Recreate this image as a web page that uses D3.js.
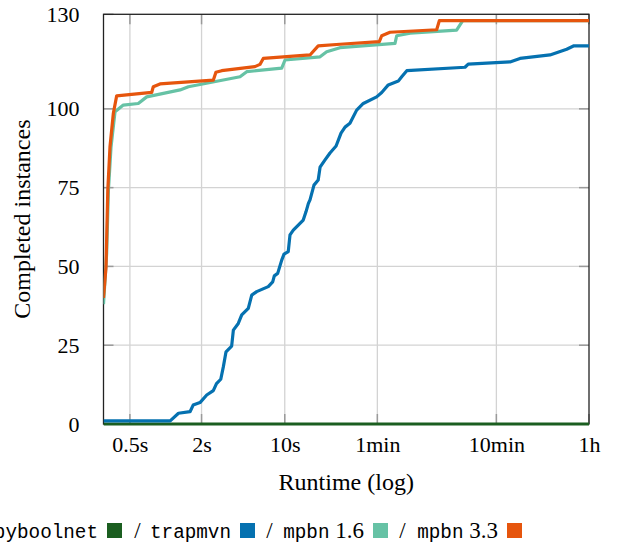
<!DOCTYPE html>
<html>
<head>
<meta charset="utf-8">
<script src="https://cdn.jsdelivr.net/npm/d3@7"></script>
<style>
  html, body { margin: 0; padding: 0; background: #fff; }
  svg { display: block; }
</style>
</head>
<body>
<svg id="chart" width="623" height="546"></svg>
<script>
// ---------- data ----------
const xTickValues = [0.5, 2, 10, 60, 600, 3600];
const xTickLabels = ["0.5s", "2s", "10s", "1min", "10min", "1h"];
const yTickValues = [0, 25, 50, 75, 100, 130];
const yGridValues = [25, 50, 75, 100];
const xLabel = "Runtime (log)";
const yLabel = "Completed instances";

const seriesNames = ["pyboolnet", "trapmvn", "mpbn 1.6", "mpbn 3.3"];
const seriesColors = ["#1b5e20", "#0571b0", "#66c2a5", "#e6550d"];

const pyboolnetTimes = [0.3, 3600];
const pyboolnetCounts = [0, 0];

const trapmvnTimes = [0.3, 1.09, 1.28, 1.60, 1.70, 1.94, 2.21, 2.51, 2.67, 2.90, 3.05, 3.21, 3.58, 3.70, 4.07, 4.35, 4.94, 5.28, 5.81, 7.27, 7.92, 8.17, 8.72, 9.43, 9.86, 10.7, 11.07, 11.8, 14.3, 15.1, 15.8, 16.3, 17.6, 19.1, 19.8, 21.8, 24.0, 27.0, 29.7, 32.1, 35.3, 40.2, 45.7, 59.2, 65.3, 74.1, 90.0, 96.1, 106, 327, 348, 781, 947, 1693, 2339, 2692, 3600];
const trapmvnCounts = [1, 1, 3.4, 3.9, 6.0, 6.8, 9.2, 10.6, 12.8, 14.2, 18.2, 22.9, 24.7, 29.8, 31.9, 34.6, 36.7, 40.9, 42.0, 43.6, 45.1, 47.0, 47.8, 52.0, 53.9, 54.7, 60.0, 61.5, 64.7, 67.4, 70.0, 71.1, 75.8, 77.4, 81.5, 83.8, 86.0, 88.2, 92.3, 94.2, 95.4, 99.6, 101.7, 103.8, 105.2, 107.6, 108.8, 110.2, 112.1, 113.2, 114.2, 114.9, 116.0, 117.1, 118.9, 120, 120];

const mpbn16Times = [0.3, 0.319, 0.330, 0.347, 0.375, 0.440, 0.588, 0.692, 1.32, 1.55, 4.21, 4.79, 9.43, 10.05, 19.8, 22.5, 29.1, 84.4, 87.2, 113, 278, 313, 3600];
const mpbn16Counts = [38, 54.2, 74.2, 87.9, 99.1, 101.2, 101.7, 103.8, 106.0, 107.0, 110.2, 111.8, 112.9, 115.5, 116.5, 118.1, 119.4, 120.8, 123.2, 124.0, 125.0, 128, 128];

const mpbn33Times = [0.3, 0.315, 0.326, 0.340, 0.363, 0.387, 0.762, 0.786, 0.895, 2.51, 2.64, 2.95, 5.62, 6.19, 6.60, 16.3, 19.1, 29.1, 62.3, 65.3, 76.6, 189, 199, 3600];
const mpbn33Counts = [40, 49.8, 74.2, 87.9, 98.6, 104.1, 105.2, 107.0, 107.9, 109.1, 111.6, 112.1, 113.4, 114.1, 116.0, 117.1, 120.0, 120.5, 121.3, 123.2, 124.3, 125.1, 128, 128];

const seriesTimes = [pyboolnetTimes, trapmvnTimes, mpbn16Times, mpbn33Times];
const seriesCounts = [pyboolnetCounts, trapmvnCounts, mpbn16Counts, mpbn33Counts];

// ---------- layout ----------
const SERIF = "Liberation Serif";
const MONO = "Liberation Mono";
const L = 103.5, R = 589, T = 14.3, B = 424;
const svg = d3.select("#chart");

const x = d3.scaleLog().domain([0.3, 3600]).range([L, R]);
const y = d3.scaleLinear().domain([0, 130]).range([B, T]);

svg.append("defs").append("clipPath").attr("id", "clip")
  .append("rect").attr("x", L).attr("y", T - 4).attr("width", R - L).attr("height", B - T + 8);

// grid
const grid = svg.append("g");
grid.selectAll("line.vx").data(xTickValues.filter(v => v < 3600)).join("line")
  .attr("x1", d => x(d)).attr("x2", d => x(d)).attr("y1", T).attr("y2", B)
  .attr("stroke", "#d3d3d3").attr("stroke-width", 1.3);
grid.selectAll("line.hy").data(yGridValues).join("line")
  .attr("x1", L).attr("x2", R).attr("y1", d => y(d)).attr("y2", d => y(d))
  .attr("stroke", "#d3d3d3").attr("stroke-width", 1.3);

// inner tick marks
const tk = 10;
const ticks = svg.append("g").attr("stroke", "#9a9a9a").attr("stroke-width", 1.5);
xTickValues.forEach(v => {
  ticks.append("line").attr("x1", x(v)).attr("x2", x(v)).attr("y1", B).attr("y2", B - tk);
  ticks.append("line").attr("x1", x(v)).attr("x2", x(v)).attr("y1", T).attr("y2", T + tk);
});
yTickValues.forEach(v => {
  ticks.append("line").attr("x1", L).attr("x2", L + tk).attr("y1", y(v)).attr("y2", y(v));
  ticks.append("line").attr("x1", R).attr("x2", R - tk).attr("y1", y(v)).attr("y2", y(v));
});

// frame
svg.append("rect").attr("x", L).attr("y", T).attr("width", R - L).attr("height", B - T)
  .attr("fill", "none").attr("stroke", "#222").attr("stroke-width", 1.3);

// series lines
const line = d3.line().x(d => x(d[0])).y(d => y(d[1])).curve(d3.curveLinear);
const lines = svg.append("g").attr("clip-path", "url(#clip)");
seriesNames.forEach((name, i) => {
  const pts = seriesTimes[i].map((t, j) => [t, seriesCounts[i][j]]);
  lines.append("path").datum(pts)
    .attr("d", line)
    .attr("fill", "none")
    .attr("stroke", seriesColors[i])
    .attr("stroke-width", 3.2)
    .attr("stroke-linejoin", "round")
    .attr("stroke-linecap", "butt");
});

// axes (labels only)
const xAxis = d3.axisBottom(x).tickValues(xTickValues)
  .tickFormat((d, i) => xTickLabels[i]).tickSize(0).tickPadding(12);
const gx = svg.append("g").attr("transform", `translate(0,${B})`).call(xAxis);
gx.select(".domain").remove();
gx.attr("font-family", SERIF).attr("font-size", 22);
gx.selectAll("text").attr("fill", "#000");

const yAxis = d3.axisLeft(y).tickValues(yTickValues).tickSize(0).tickPadding(24);
const gy = svg.append("g").attr("transform", `translate(${L},0)`).call(yAxis);
gy.select(".domain").remove();
gy.attr("font-family", SERIF).attr("font-size", 22);
gy.selectAll("text").attr("fill", "#000");

// axis titles
svg.append("text").attr("font-family", SERIF).attr("font-size", 24)
  .attr("x", (L + R) / 2).attr("y", 490).attr("text-anchor", "middle").text(xLabel);
svg.append("text").attr("font-family", SERIF).attr("font-size", 24)
  .attr("transform", `translate(30,${(T + B) / 2}) rotate(-90)`)
  .attr("text-anchor", "middle").text(yLabel);

// legend
const legendSquareX = [107, 240, 373, 507];
const legendSlashX = [137.5, 269.5, 402.5];
const legendBase = 538;
seriesNames.forEach((name, i) => {
  const parts = name.split(" ");
  const t = svg.append("text").attr("x", legendSquareX[i] - 9).attr("y", legendBase)
    .attr("text-anchor", "end");
  t.append("tspan").attr("font-family", MONO).attr("font-size", 19.3).text(parts[0]);
  if (parts[1]) {
    t.append("tspan").attr("font-family", SERIF).attr("font-size", 23).text("\u00A0" + parts[1]);
  }
  svg.append("rect").attr("x", legendSquareX[i]).attr("y", 523)
    .attr("width", 15).attr("height", 15).attr("fill", seriesColors[i]);
  if (i < legendSlashX.length) {
    svg.append("text").attr("font-family", SERIF).attr("font-size", 23)
      .attr("x", legendSlashX[i]).attr("y", legendBase).attr("text-anchor", "middle").text("/");
  }
});
</script>
</body>
</html>
